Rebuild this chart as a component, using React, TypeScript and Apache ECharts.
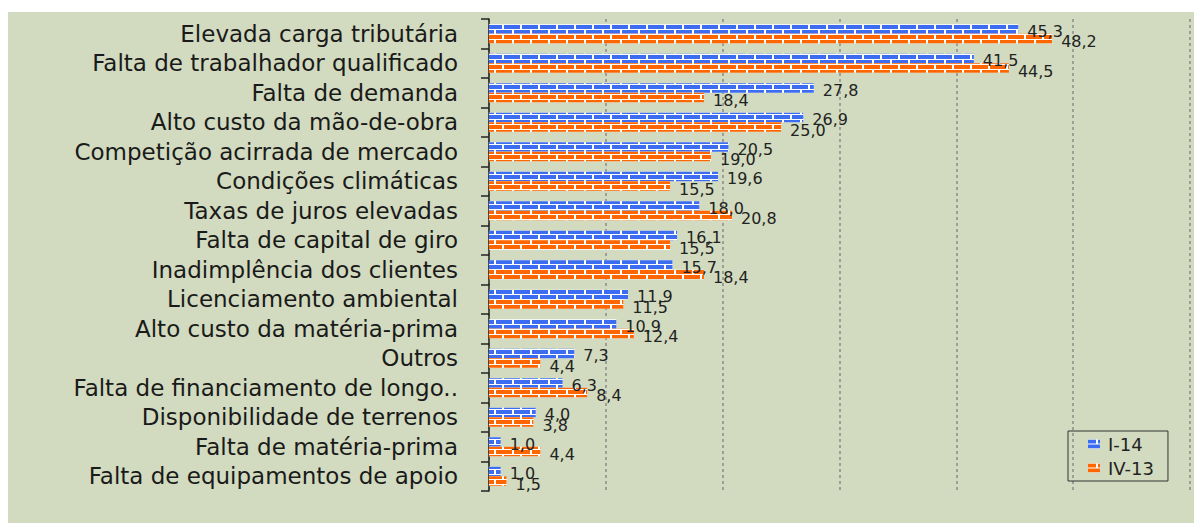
import React, { useEffect, useRef } from 'react';
import * as echarts from 'echarts';

const categories = [
  'Elevada carga tributária',
  'Falta de trabalhador qualificado',
  'Falta de demanda',
  'Alto custo da mão-de-obra',
  'Competição acirrada de mercado',
  'Condições climáticas',
  'Taxas de juros elevadas',
  'Falta de capital de giro',
  'Inadimplência dos clientes',
  'Licenciamento ambiental',
  'Alto custo da matéria-prima',
  'Outros',
  'Falta de financiamento de longo..',
  'Disponibilidade de terrenos',
  'Falta de matéria-prima',
  'Falta de equipamentos de apoio',
];

const valuesI14 = [45.3, 41.5, 27.8, 26.9, 20.5, 19.6, 18.0, 16.1, 15.7, 11.9, 10.9, 7.3, 6.3, 4.0, 1.0, 1.0];
const valuesIV13 = [48.2, 44.5, 18.4, 25.0, 19.0, 15.5, 20.8, 15.5, 18.4, 11.5, 12.4, 4.4, 8.4, 3.8, 4.4, 1.5];

const seriesNames = ['I-14', 'IV-13'];
const xMin = 0;
const xMax = 60;
const xInterval = 10;

const FONT = 'DejaVu Sans';
const BLUE = '#3b6cf2';
const ORANGE = '#ff6600';

function brick(color: string) {
  return {
    symbol: 'rect',
    symbolSize: 1,
    color,
    dashArrayX: [[16, 2], [8, 2, 8, 0]],
    dashArrayY: [4, 1],
    rotation: 0,
  };
}

export default function App() {
  const ref = useRef<HTMLDivElement>(null);
  useEffect(() => {
    if (!ref.current) return;
    const chart = echarts.init(ref.current, undefined, { renderer: 'svg' });
    const fmt = (p: any) => Number(p.value).toFixed(1).replace('.', ',');
    chart.setOption({
      animation: false,
      backgroundColor: '#ffffff',
      graphic: [
        {
          type: 'rect',
          left: 8,
          top: 12,
          z: -10,
          shape: { width: 1186, height: 511 },
          style: { fill: '#d2dbbf' },
        },
      ],
      grid: { left: 489, right: 4, top: 19, bottom: 32 },
      legend: {
        data: seriesNames,
        orient: 'vertical',
        left: 1068,
        top: 431,
        padding: [4, 14, 4, 20],
        itemGap: 6,
        itemWidth: 12,
        itemHeight: 9,
        icon: 'rect',
        borderColor: '#333',
        borderWidth: 1,
        textStyle: { fontSize: 18, fontFamily: FONT, color: '#222', padding: [0, 0, 0, 3] },
      },
      xAxis: {
        type: 'value',
        min: xMin,
        max: xMax,
        interval: xInterval,
        axisLine: { show: false },
        axisTick: { show: false },
        axisLabel: { show: false },
        splitLine: { show: true, lineStyle: { color: '#8a8a8a', type: [3, 3], width: 1.5 } },
      },
      yAxis: {
        type: 'category',
        data: categories,
        inverse: true,
        axisLine: { show: true, lineStyle: { color: '#222', width: 1.5 } },
        axisTick: { show: true, length: 8, interval: 0, lineStyle: { color: '#222', width: 1.5 } },
        axisLabel: { interval: 0, margin: 31, fontSize: 23, fontFamily: FONT, color: '#1a1a1a' },
      },
      series: [
        {
          name: seriesNames[0],
          type: 'bar',
          data: valuesI14,
          barWidth: 9.5,
          barGap: '0%',
          itemStyle: { color: '#ffffff', decal: brick(BLUE) },
          label: {
            show: true,
            position: 'right',
            distance: 9,
            offset: [0, 2],
            formatter: fmt,
            fontSize: 16,
            fontFamily: FONT,
            color: '#222',
          },
        },
        {
          name: seriesNames[1],
          type: 'bar',
          data: valuesIV13,
          barWidth: 9.5,
          barGap: '0%',
          itemStyle: { color: '#ffffff', decal: brick(ORANGE) },
          label: {
            show: true,
            position: 'right',
            distance: 9,
            offset: [0, 3],
            formatter: fmt,
            fontSize: 16,
            fontFamily: FONT,
            color: '#222',
          },
        },
      ],
    });
    return () => chart.dispose();
  }, []);
  return (
    <div
      ref={ref}
      style={{ position: 'absolute', left: 0, top: 0, width: 1194, height: 523 }}
    />
  );
}
